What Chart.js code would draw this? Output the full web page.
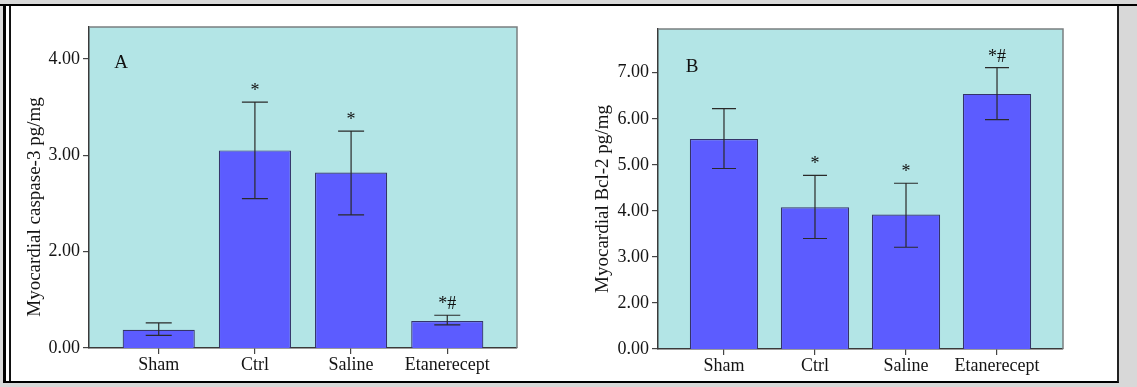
<!DOCTYPE html>
<html><head><meta charset="utf-8">
<script src="https://cdn.jsdelivr.net/npm/chart.js@4.4.1/dist/chart.umd.min.js"></script>
<style>
body{margin:0;background:#d8d8d8;width:1137px;height:387px;overflow:hidden;position:relative;font-family:"Liberation Serif",serif;}
#frame{position:absolute;left:3px;top:4px;width:1111px;height:375px;background:#fff;border-top:2px solid #000;border-left:3px solid #000;border-bottom:2px solid #000;border-right:2px solid #222;}
#topline{position:absolute;left:0;top:4px;width:1137px;height:2px;background:#000;}
#inner{position:absolute;left:9px;top:6px;width:2px;height:375px;background:#111;}
canvas{position:absolute;}
</style></head>
<body>
<div id="frame"></div><div id="topline"></div><div id="inner"></div>
<canvas id="cA" width="548" height="372" style="left:12px;top:8px;width:548px;height:372px"></canvas>
<canvas id="cB" width="540" height="372" style="left:570px;top:8px;width:540px;height:372px"></canvas>
<script>
const categories = ["Sham", "Ctrl", "Saline", "Etanerecept"];

const caspaseMeans = [1.19, 3.05, 2.82, 1.28];
const caspaseUpper = [1.26, 3.55, 3.25, 1.34];
const caspaseLower = [1.13, 2.55, 2.38, 1.24];
const caspaseSig = ["", "*", "*", "*#"];
const caspaseTickValues = [1, 2, 3, 4];
const caspaseTickLabels = ["0.00", "2.00", "3.00", "4.00"];

const bcl2Means = [5.56, 4.08, 3.92, 6.54];
const bcl2Upper = [6.22, 4.77, 4.60, 7.11];
const bcl2Lower = [4.92, 3.40, 3.21, 5.98];
const bcl2Sig = ["", "*", "*", "*#"];
const bcl2TickValues = [1, 2, 3, 4, 5, 6, 7];
const bcl2TickLabels = ["0.00", "2.00", "3.00", "4.00", "5.00", "6.00", "7.00"];

const FONT = '"Liberation Serif", "Times New Roman", serif';
const TEXT = '#141414';

const extrasPlugin = {
  id: 'extras',
  beforeDraw(chart, args, o) {
    const a = chart.chartArea, c = chart.ctx;
    c.save();
    c.fillStyle = '#b3e5e6';
    c.fillRect(a.left, a.top, a.right - a.left, a.bottom - a.top);
    c.restore();
  },
  beforeDatasetsDraw(chart, args, o) {
    const a = chart.chartArea, c = chart.ctx;
    c.save();
    c.strokeStyle = '#7a7f80';
    c.lineWidth = 1.5;
    c.beginPath();
    c.moveTo(a.left, a.top); c.lineTo(a.right, a.top); c.lineTo(a.right, a.bottom);
    c.stroke();
    c.restore();
  },
  afterDatasetsDraw(chart, args, o) {
    const a = chart.chartArea, c = chart.ctx;
    const xs = chart.scales.x, ys = chart.scales.y;
    c.save();
    c.strokeStyle = '#2a2a2a';
    c.lineWidth = 1.2;
    o.upper.forEach((u, i) => {
      const x = xs.getPixelForValue(i);
      const yu = ys.getPixelForValue(u), yl = ys.getPixelForValue(o.lower[i]);
      c.beginPath();
      c.moveTo(x, yu); c.lineTo(x, yl);
      c.moveTo(x - o.cap, yu); c.lineTo(x + o.cap, yu);
      c.moveTo(x - o.cap, yl); c.lineTo(x + o.cap, yl);
      c.stroke();
      if (o.sig[i]) {
        c.fillStyle = '#111';
        c.font = '18px ' + FONT;
        c.textAlign = 'center';
        c.textBaseline = 'alphabetic';
        c.fillText(o.sig[i], x, yu - 6);
      }
    });
    c.fillStyle = '#111';
    c.font = '19px ' + FONT;
    c.textAlign = 'center';
    c.textBaseline = 'middle';
    c.fillText(o.letter, a.left + o.letterDx, a.top + o.letterDy);
    c.translate(a.left + o.titleDx, a.bottom - o.titleUp);
    c.rotate(-Math.PI / 2);
    c.font = '19px ' + FONT;
    c.fillStyle = TEXT;
    c.fillText(o.title, 0, 0);
    c.restore();
  }
};

function makeChart(id, means, upper, lower, sig, tickVals, tickLabels, yMax, yWidth, xHeight, pad, extra) {
  new Chart(document.getElementById(id), {
    type: 'bar',
    data: {
      datasets: [{
        data: means.map((v, i) => ({x: i, y: v})),
        backgroundColor: '#5c5cff',
        borderColor: '#34346a',
        borderWidth: 1.2,
        barPercentage: 0.75,
        categoryPercentage: 1.0
      }]
    },
    options: {
      responsive: false,
      animation: false,
      devicePixelRatio: 1,
      layout: {padding: pad},
      plugins: {
        legend: {display: false},
        tooltip: {enabled: false},
        extras: Object.assign({upper, lower, sig}, extra)
      },
      scales: {
        x: {
          type: 'linear',
          offset: false,
          min: -0.725, max: categories.length - 1 + 0.725,
          afterBuildTicks: s => { s.ticks = categories.map((_, i) => ({value: i})); },
          afterFit: s => { s.height = xHeight; },
          ticks: {
            callback: v => categories[v],
            font: {family: FONT, size: 18},
            color: TEXT,
            padding: 0,
            maxRotation: 0,
            autoSkip: false
          },
          grid: {display: true, offset: false, drawOnChartArea: false, drawTicks: true, tickLength: 6, color: '#444', lineWidth: 1.2},
          border: {display: true, color: '#3a3a3a', width: 1.5}
        },
        y: {
          type: 'linear',
          min: 1, max: yMax,
          afterBuildTicks: s => { s.ticks = tickVals.map(v => ({value: v})); },
          afterFit: s => { s.width = yWidth; },
          ticks: {
            callback: v => tickLabels[tickVals.indexOf(v)],
            font: {family: FONT, size: 18},
            color: TEXT,
            padding: 3
          },
          grid: {display: true, drawOnChartArea: false, drawTicks: true, tickLength: 6, color: '#444', lineWidth: 1.2},
          border: {display: true, color: '#3a3a3a', width: 1.5}
        }
      }
    },
    plugins: [extrasPlugin]
  });
}

makeChart('cA', caspaseMeans, caspaseUpper, caspaseLower, caspaseSig,
  caspaseTickValues, caspaseTickLabels, 4.33, 77, 32,
  {top: 19, right: 43, bottom: 0, left: 0},
  {cap: 13, letter: 'A', letterDx: 32, letterDy: 36, title: 'Myocardial caspase-3 pg/mg', titleDx: -54, titleUp: 141});

makeChart('cB', bcl2Means, bcl2Upper, bcl2Lower, bcl2Sig,
  bcl2TickValues, bcl2TickLabels, 7.95, 88, 31,
  {top: 21, right: 47, bottom: 0, left: 0},
  {cap: 12, letter: 'B', letterDx: 34, letterDy: 38, title: 'Myocardial Bcl-2 pg/mg', titleDx: -55, titleUp: 150});
</script>
</body></html>
